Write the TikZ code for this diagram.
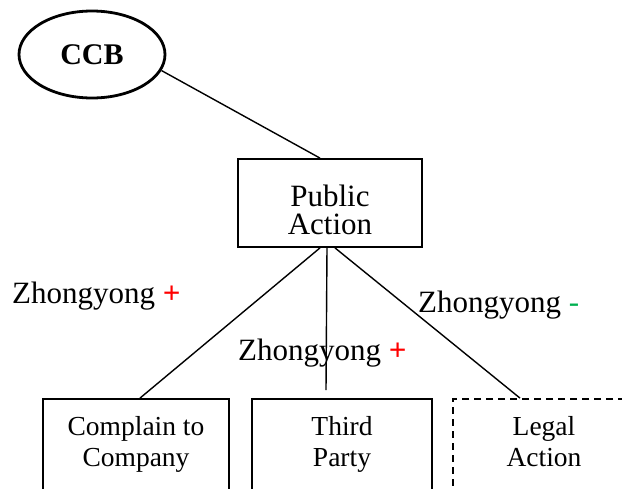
\documentclass[tikz,border=0pt]{standalone}
\usepackage{fontspec}
\setmainfont{Liberation Serif}
\usetikzlibrary{shapes.geometric,calc}
\definecolor{plusred}{RGB}{255,0,0}
\definecolor{minusgreen}{RGB}{0,176,80}
\begin{document}
\begin{tikzpicture}[x=1pt,y=-1pt,
  link/.style={draw,line width=1.4pt},
  actbox/.style={draw,line width=1.8pt,inner sep=0pt},
  boxtext/.style={anchor=north,align=center,inner sep=0pt,font=\fontsize{27.5}{31}\selectfont},
  zlabel/.style={anchor=base west,inner sep=0pt,font=\fontsize{31}{31}\selectfont}]
\useasboundingbox (0,0) rectangle (622,488);
\clip (0,0) rectangle (622,488);

% root ellipse
\node[ellipse,draw,line width=2.8pt,minimum width=146pt,minimum height=87pt,inner sep=0pt,
      font=\fontsize{30}{30}\selectfont\bfseries] (ccb) at (92,54.5) {CCB};

% middle box
\node[actbox,minimum width=184pt,minimum height=88pt] (pa) at (330,203) {};
\node[anchor=north,align=center,inner sep=0pt,font=\fontsize{31}{28.6}\selectfont]
     (patext) at (330,184.5) {Public\\Action};

% bottom boxes (running off the lower edge)
\node[actbox,minimum width=186pt,minimum height=120pt] (comp) at (136,459) {};
\node[boxtext] (comptext) at (136,416.2) {Complain to\\Company};

\node[actbox,minimum width=180pt,minimum height=120pt] (third) at (342,459) {};
\node[boxtext] (thirdtext) at (342,416.2) {Third\\Party};

\node[draw,dash pattern=on 7pt off 5pt,line width=1.8pt,inner sep=0pt,
      minimum width=182pt,minimum height=120pt] (legal) at (544,459) {};
\node[boxtext] (legaltext) at (544,416.2) {Legal\\Action};

% connectors
\draw[link] (ccb.-13) -- ($(pa.north)+(-10,0)$);
\draw[link] ($(pa.south)+(-10,0)$) -- ($(comp.north)+(4,0)$);
\coordinate (thirdend) at ($(third.north)+(-16,-8)$);
\draw[link] ($(pa.south)+(-3,0)$) -- (thirdend);
\draw[link] ($(pa.south)+(5,0)$) -- ($(legal.north)+(-24,0)$);

% edge labels
\node[zlabel] (zleft) at (12,303) {Zhongyong {\color{plusred}\bfseries +}};
\node[zlabel] (zmid) at (238,360) {Zhongyong {\color{plusred}\bfseries +}};
\node[zlabel] (zright) at (418,312) {Zhongyong {\color{minusgreen}-}};
\end{tikzpicture}
\end{document}
